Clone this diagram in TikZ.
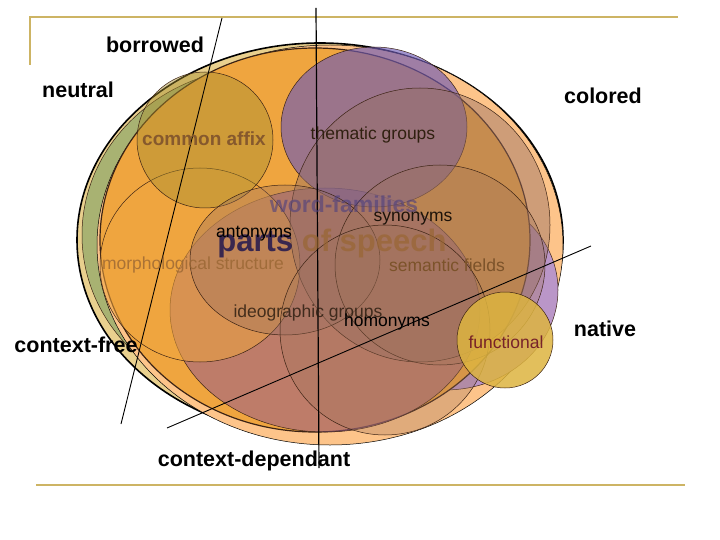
\documentclass[tikz,border=0pt]{standalone}
\usepackage{fontspec}
\setmainfont{Liberation Sans}

\definecolor{rule}{RGB}{205,180,100}
\definecolor{khaki}{RGB}{233,208,142}
\definecolor{sage}{RGB}{168,178,114}
\definecolor{peach}{RGB}{253,196,138}
\definecolor{amber}{RGB}{239,165,63}
\definecolor{violet}{RGB}{186,150,200}
\definecolor{mauve}{RGB}{150,92,140}
\definecolor{olive}{RGB}{168,144,48}
\definecolor{lilac}{RGB}{110,90,180}
\definecolor{umber}{RGB}{150,110,100}
\definecolor{tawny}{RGB}{160,115,90}
\definecolor{mustard}{RGB}{221,180,64}
\definecolor{edge}{RGB}{60,35,20}

\tikzstyle{blob}=[draw=edge,line width=0.5pt]
\tikzstyle{cut}=[draw=black,line width=0.9pt,draw opacity=1]
\tikzstyle{side}=[font=\bfseries\fontsize{21.5}{24}\selectfont,inner sep=0pt]
\tikzstyle{term}=[font=\fontsize{17.5}{20}\selectfont,inner sep=0pt]
\newcommand{\pxscale}{1pt}

\begin{document}
\begin{tikzpicture}[x=\pxscale, y=-\pxscale]
    \useasboundingbox (0,0) rectangle (720,540);
    % The frame of the slide
    \draw[rule, line width=2pt] (30,65) -- (30,17) -- (678,17);
    \draw[rule, line width=2pt] (36,485) -- (685,485);
    % First we draw the sets, the largest ones first
    \path[blob, draw=black, line width=1.6pt, fill=khaki] (320,240) ellipse (243 and 197);
    \path[blob, fill=sage] (265,235) ellipse (183 and 168);
    \path[blob, draw=black, fill=peach] (330,245) ellipse (233 and 200);
    \path[blob, fill=violet] (445,290) ellipse (113 and 100);
    \path[blob, line width=1.2pt, fill=amber] (315,240) ellipse (215 and 192);
    \foreach \pos/\rx/\ry/\col/\op in {{(325,310)/155/122/mauve/0.55},
            {(200,265)/100/97/amber/0.55}, {(205,140)/68/68/olive/0.45},
            {(374,127)/93/80/lilac/0.65}, {(420,225)/130/137/umber/0.45},
            {(285,260)/95/75/umber/0.35}, {(440,265)/105/100/tawny/0.3},
            {(385,330)/105/105/tawny/0.3}, {(505,340)/48/48/mustard/0.85}}
        \path[blob, fill=\col, fill opacity=\op] \pos ellipse ({\rx} and {\ry});
    % The three cuts across the sets
    \path[cut] (222,18) -- (121,424);
    \fill[black] (315.4,8) -- (316.6,8) -- (319.6,468) -- (318.4,468) -- cycle;
    \path[cut] (167,428) -- (591,246);
    % Labels round the sets
    \foreach \name/\pos/\txt in {borrowed/{(155,45)}/borrowed, neutral/{(78,90)}/neutral,
            colored/{(603,96)}/colored, native/{(605,329)}/native,
            cfree/{(76,345)}/context-free, cdep/{(254,461)}/context-dependant}
        \node[side] (\name) at \pos {\txt};
    % Labels inside the sets
    \node[term, font=\bfseries\fontsize{19}{21}\selectfont, text=brown!70!black] (affix) at (204,139) {common affix};
    \node[term, text=black!75!brown] (thematic) at (373,135) {thematic groups};
    \node[term, font=\bfseries\fontsize{23}{25}\selectfont, text=lilac!70!black, text opacity=0.6] (families) at (344,204) {word-families};
    \node[term, text=black!85!brown] (synonyms) at (413,219) {synonyms};
    \node[term, font=\bfseries\fontsize{31}{33}\selectfont, text opacity=0.7] (parts) at (332,243) {\textcolor{blue!30!black}{parts} \textcolor{brown!80!black}{of speech}};
    \node[term, text=black] (antonyms) at (254,234) {antonyms};
    \node[term, text=brown!80!black, text opacity=0.8] (morph) at (193,265) {morphological structure};
    \node[term, text=brown!65!black] (semantic) at (447,265) {semantic fields};
    \node[term, text=black!80!brown, text opacity=0.8] (ideographic) at (308,313) {ideographic groups};
    \node[term, text=black] (homonyms) at (387,322) {homonyms};
    \node[term, text=purple!50!black, text opacity=0.8] (functional) at (506,342) {functional};
\end{tikzpicture}
\end{document}
